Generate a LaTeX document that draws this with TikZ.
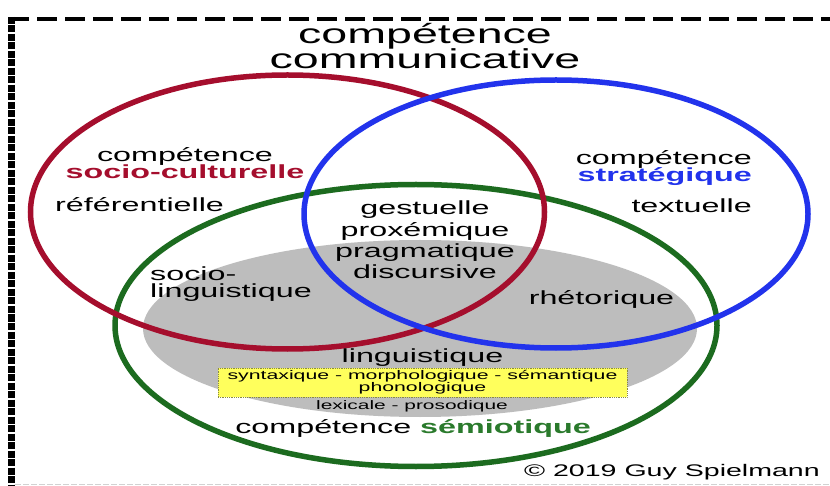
\documentclass[tikz,border=0pt]{standalone}
\usepackage{fontspec}
\setmainfont{Liberation Sans}[FakeStretch=1.7]
\definecolor{cred}{HTML}{A50E2D}
\definecolor{cblue}{HTML}{2233EC}
\definecolor{cgreen}{HTML}{1C6B1F}
\definecolor{cgreentxt}{HTML}{2A7A2C}
\definecolor{cgray}{HTML}{BDBDBD}
\definecolor{cyellow}{HTML}{FFFF5C}
\definecolor{cboxline}{HTML}{8A8A40}
\begin{document}
\begin{tikzpicture}[x=1pt,y=-1pt,
  lbl/.style={inner sep=0pt, anchor=base, font=\fontsize{19}{19}\selectfont},
  lblw/.style={lbl, anchor=base west},
  lble/.style={lbl, anchor=base east},
  ttl/.style={inner sep=0pt, anchor=base, font=\fontsize{27.4}{27}\selectfont},
  ring/.style={line width=5.5pt}]
\useasboundingbox (0,0) rectangle (830,486);
\fill[white] (0,0) rectangle (830,486);
% border
\draw[line width=4pt, dash pattern=on 20pt off 8pt] (9,19) -- (830,19);
\draw[line width=7pt, dash pattern=on 7pt off 1.5pt] (11,17) -- (11,486);
\draw[line width=1pt, gray!35, dash pattern=on 6pt off 2pt] (15,484) -- (830,484);
% gray ellipse
\fill[cgray] (420,328.5) ellipse [x radius=277, y radius=88.5];
% yellow box
\node[draw=cboxline, densely dotted, line width=0.8pt, fill=cyellow, minimum width=409pt, minimum height=29pt, inner sep=0pt, align=center, font=\fontsize{12.5}{12}\selectfont] (box) at (422.5,382.5) {syntaxique - morphologique - sémantique\\phonologique};
% rings
\draw[ring, cgreen] (416,325.5) ellipse [x radius=301, y radius=141];
\draw[ring, cred] (287.5,212) ellipse [x radius=257, y radius=137];
\draw[ring, cblue] (556,214) ellipse [x radius=252, y radius=134];
% title
\node[ttl] (t1) at (425,44) {compétence};
\node[ttl] (t2) at (425,69) {communicative};
% socio-culturelle
\node[lbl] (sc1) at (185,162) {compétence};
\node[lbl] (sc2) at (185,179) {\textbf{\color{cred}socio-culturelle}};
\node[lblw] (ref) at (55,212) {référentielle};
% strategique
\node[lble] (st1) at (752,165) {compétence};
\node[lble] (st2) at (752,182) {\textbf{\color{cblue}stratégique}};
\node[lble] (tex) at (752,213) {textuelle};
% centre
\node[lbl] (ge) at (425,215) {gestuelle};
\node[lbl] (pr) at (425,237) {proxémique};
\node[lbl] (pg) at (425,258) {pragmatique};
\node[lbl] (di) at (425,279) {discursive};
\node[lblw] (so1) at (150,281) {socio-};
\node[lblw] (so2) at (150,298) {linguistique};
\node[lbl] (rh) at (601.5,305) {rhétorique};
\node[lbl] (li) at (422.5,362) {linguistique};
\node[inner sep=0pt, anchor=base, font=\fontsize{12.3}{12}\selectfont] (lx) at (412,409) {lexicale - prosodique};
\node[lbl] (se) at (413,433) {compétence \textbf{\color{cgreentxt}sémiotique}};
\node[inner sep=0pt, anchor=base east, font=\fontsize{16.8}{17}\selectfont] (cp) at (820,476) {© 2019 Guy Spielmann};
\end{tikzpicture}
\end{document}
